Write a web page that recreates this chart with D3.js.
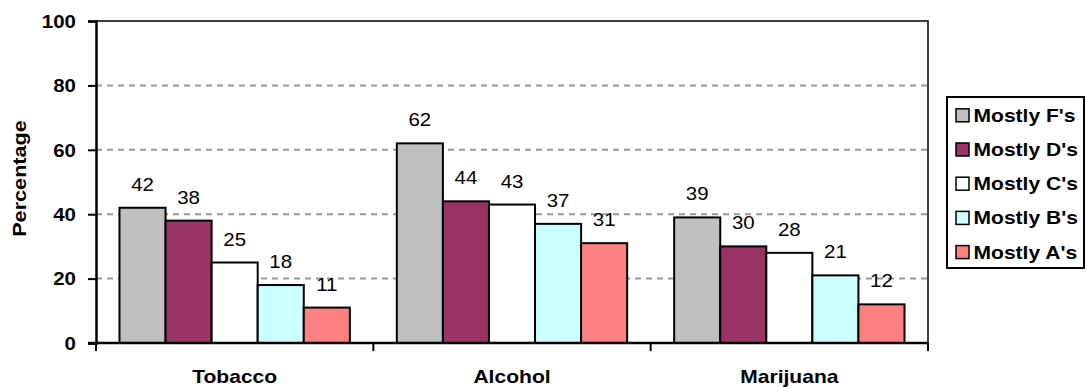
<!DOCTYPE html>
<html>
<head>
<meta charset="utf-8">
<script src="https://cdn.jsdelivr.net/npm/d3@7"></script>
<style>
  html, body { margin: 0; padding: 0; background: #fff; }
  svg { display: block; font-family: "Liberation Sans", Arial, sans-serif; }
</style>
</head>
<body>
<svg id="chart" width="1086" height="387"></svg>
<script>
// Substances surveyed and grade groups
const categories = ["Tobacco", "Alcohol", "Marijuana"];
const seriesNames = ["Mostly F's", "Mostly D's", "Mostly C's", "Mostly B's", "Mostly A's"];
const seriesColors = ["#C0C0C0", "#993366", "#FFFFFF", "#CCFFFF", "#FF8080"];

// Percentage per grade group, one array per substance
const tobacco = [42, 38, 25, 18, 11];
const alcohol = [62, 44, 43, 37, 31];
const marijuana = [39, 30, 28, 21, 12];
const values = [tobacco, alcohol, marijuana];

const yTicks = [0, 20, 40, 60, 80, 100];

const svg = d3.select("#chart");
const plot = { left: 96, right: 928, top: 21, bottom: 343 };
const TEXT_STRETCH = 1.17;

const x0 = d3.scaleBand().domain(categories).range([plot.left, plot.right]).padding(0);
const x1 = d3.scaleBand().domain(seriesNames).range([0, x0.bandwidth()])
  .paddingInner(0).paddingOuter(0.51);
const y = d3.scaleLinear().domain([0, 100]).range([plot.bottom, plot.top]);

// Dashed gridlines
svg.append("g").selectAll("line")
  .data(yTicks.filter(t => t > 0 && t < 100))
  .join("line")
  .attr("x1", plot.left).attr("x2", plot.right)
  .attr("y1", d => y(d)).attr("y2", d => y(d))
  .attr("stroke", "#999").attr("stroke-width", 2)
  .attr("stroke-dasharray", "6,5");

// Thin plot frame (top and right)
svg.append("path")
  .attr("d", `M${plot.left},${plot.top}H${plot.right}V${plot.bottom}`)
  .attr("fill", "none").attr("stroke", "#000").attr("stroke-width", 1.5);

// Bars
const groups = svg.append("g").selectAll("g")
  .data(categories)
  .join("g")
  .attr("transform", d => `translate(${x0(d)},0)`);

groups.selectAll("rect")
  .data((c, i) => values[i].map((v, j) => ({ name: seriesNames[j], value: v, color: seriesColors[j] })))
  .join("rect")
  .attr("x", d => x1(d.name))
  .attr("y", d => y(d.value))
  .attr("width", x1.bandwidth())
  .attr("height", d => y(0) - y(d.value))
  .attr("fill", d => d.color)
  .attr("stroke", "#000").attr("stroke-width", 2);

// Value labels
groups.selectAll("text")
  .data((c, i) => values[i].map((v, j) => ({ name: seriesNames[j], value: v })))
  .join("text")
  .attr("transform", d => `translate(${x1(d.name) + x1.bandwidth() / 2},${y(d.value) - 17}) scale(${TEXT_STRETCH},1)`)
  .attr("text-anchor", "middle")
  .attr("font-size", 17.5)
  .attr("fill", "#000")
  .text(d => d.value);

// Y axis
const yAxis = d3.axisLeft(y).tickValues(yTicks).tickSize(8).tickPadding(0);
const yg = svg.append("g").attr("transform", `translate(${plot.left},0)`).call(yAxis);
yg.select(".domain").attr("stroke", "#000").attr("stroke-width", 2.5);
yg.selectAll(".tick line").attr("stroke", "#000").attr("stroke-width", 2);
yg.selectAll(".tick text")
  .attr("x", null).attr("dy", null)
  .attr("transform", `translate(-20,6.3) scale(${TEXT_STRETCH},1)`)
  .attr("text-anchor", "end")
  .attr("font-size", 17.5).attr("font-weight", "bold")
  .attr("font-family", "Liberation Sans, Arial, sans-serif")
  .attr("fill", "#000");

// X axis: boundary ticks between categories
const xAxisG = svg.append("g");
xAxisG.append("line")
  .attr("x1", plot.left - 8).attr("x2", plot.right)
  .attr("y1", plot.bottom).attr("y2", plot.bottom)
  .attr("stroke", "#000").attr("stroke-width", 2.5);
const boundaries = categories.map(c => x0(c)).concat([x0(categories[categories.length - 1]) + x0.bandwidth()]);
xAxisG.selectAll("line.tk")
  .data(boundaries)
  .join("line").attr("class", "tk")
  .attr("x1", d => d).attr("x2", d => d)
  .attr("y1", plot.bottom).attr("y2", plot.bottom + 8)
  .attr("stroke", "#000").attr("stroke-width", 2);
xAxisG.selectAll("text")
  .data(categories)
  .join("text")
  .attr("transform", d => `translate(${x0(d) + x0.bandwidth() / 2},383) scale(${TEXT_STRETCH},1)`)
  .attr("text-anchor", "middle")
  .attr("font-size", 18).attr("font-weight", "bold")
  .attr("fill", "#000")
  .text(d => d);

// Y axis title
svg.append("text")
  .attr("transform", `translate(25.5,178.5) rotate(-90) scale(${TEXT_STRETCH},1)`)
  .attr("text-anchor", "middle")
  .attr("font-size", 18.5).attr("font-weight", "bold")
  .attr("fill", "#000")
  .text("Percentage");

// Legend
const legend = svg.append("g");
legend.append("rect")
  .attr("x", 947).attr("y", 97).attr("width", 137).attr("height", 171)
  .attr("fill", "#fff").attr("stroke", "#000").attr("stroke-width", 2);
const rows = legend.selectAll("g.row")
  .data(seriesNames)
  .join("g").attr("class", "row")
  .attr("transform", (d, i) => `translate(0,${115.3 + i * 34.2})`);
rows.append("rect")
  .attr("x", 956).attr("y", -6.5).attr("width", 13).attr("height", 13)
  .attr("fill", (d, i) => seriesColors[i])
  .attr("stroke", "#000").attr("stroke-width", 1.5);
rows.append("text")
  .attr("transform", `translate(973.5,6.5) scale(${TEXT_STRETCH},1)`)
  .attr("font-size", 18).attr("font-weight", "bold")
  .attr("fill", "#000")
  .text(d => d);
</script>
</body>
</html>
